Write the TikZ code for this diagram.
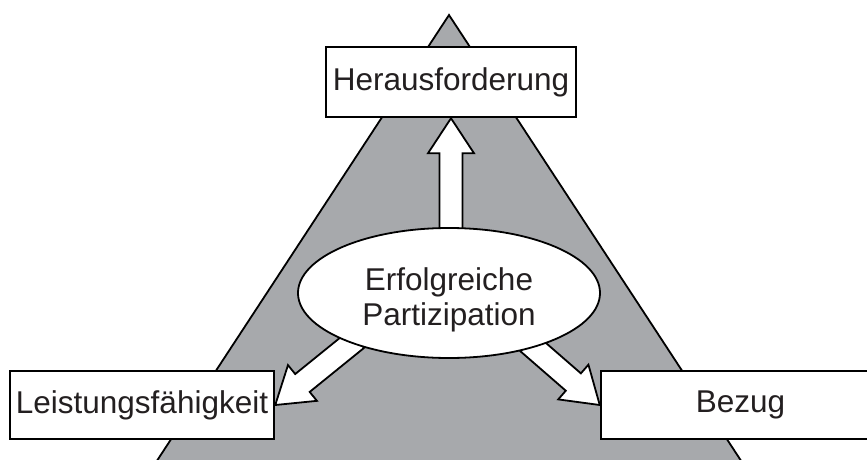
\documentclass[tikz,border=0pt]{standalone}
\usepackage{fontspec}
\setmainfont{Liberation Sans}
\usetikzlibrary{shapes.geometric}
\definecolor{trigray}{HTML}{A7A9AC}
\definecolor{txt}{HTML}{231F20}
\pgfdeclarelayer{trilayer}
\pgfdeclarelayer{arrlayer}
\pgfsetlayers{trilayer,arrlayer,main}
\begin{document}
\begin{tikzpicture}[x=1pt,y=1pt,
  labelfont/.style={text=txt, font=\fontsize{31.5}{35}\selectfont},
  labelbox/.style={labelfont, draw=black, line width=2.5pt, fill=white, inner sep=0pt},
  centreoval/.style={ellipse, draw=black, line width=1.8pt, fill=white, inner sep=0pt},
  blockarrow/.style={draw=black, line width=1.8pt, fill=white, line join=miter},
]
\clip (0,0) rectangle (867,459);
% boxes
\node[labelbox, minimum width=250, minimum height=70] (top) at (451,377) {Herausforderung};
\node[labelbox, minimum width=264, minimum height=68] (left) at (142,54) {Leistungsf\"ahigkeit};
\node[labelbox, minimum width=279, minimum height=68] (right) at (740.5,54) {Bezug};
% central ellipse
\node[centreoval, minimum width=302, minimum height=130] (centre) at (449,166) {};
\node[labelfont, align=center] (centretext) at (449,159) {Erfolgreiche\\Partizipation};
% triangle
\begin{pgfonlayer}{trilayer}
  \fill[white] (0,0) rectangle (867,459);
  \draw[fill=trigray, line width=1.8pt, line join=miter] (449,444) -- (145,-20) -- (753,-20) -- cycle;
\end{pgfonlayer}
% block arrows
\begin{pgfonlayer}{arrlayer}
\begin{scope}[shift={(top.south)}, rotate=90]
  \draw[blockarrow] (0,0) -- (-35,23) -- (-35,11.5) -- (-130,11.5) -- (-130,-11.5) -- (-35,-11.5) -- (-35,-23) -- cycle;
\end{scope}
\begin{scope}[shift={(left.east)}, rotate=219]
  \draw[blockarrow] (0,0) -- (-35,23) -- (-35,11.5) -- (-105,11.5) -- (-105,-11.5) -- (-35,-11.5) -- (-35,-23) -- cycle;
\end{scope}
\begin{scope}[shift={(right.west)}, rotate=-41]
  \draw[blockarrow] (0,0) -- (-35,23) -- (-35,11.5) -- (-95,11.5) -- (-95,-11.5) -- (-35,-11.5) -- (-35,-23) -- cycle;
\end{scope}
\end{pgfonlayer}
\end{tikzpicture}
\end{document}
